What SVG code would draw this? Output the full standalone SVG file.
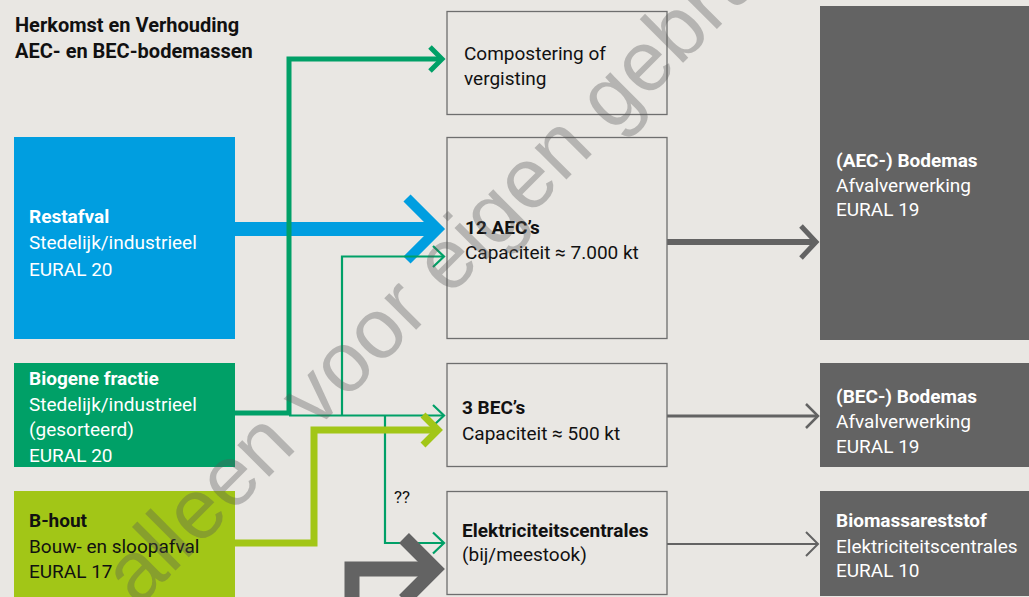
<svg xmlns="http://www.w3.org/2000/svg" width="1029" height="597" viewBox="0 0 1029 597">
<style>
text{font-family:Roboto,"Liberation Sans",sans-serif;font-size:19px}
.b{font-weight:bold}
.w{fill:#fff}
.k{fill:#111}
.mid{fill:#e9e7e3;stroke:#6e6e6e;stroke-width:1.3}
.dk{fill:#636363}
.ln{fill:none;stroke-linejoin:miter;stroke-linecap:butt}
.wm{font-family:"Liberation Sans",Arial,sans-serif;font-size:85px;fill:#555;fill-opacity:0.35}
</style>
<rect width="1029" height="597" fill="#e9e7e3"/>
<g id="title">
<text class="b k" x="15" y="32" style="font-size:20px">Herkomst en Verhouding</text>
<text class="b k" x="15" y="58" style="font-size:20px">AEC- en BEC-bodemassen</text>
</g>
<g id="connectors">
<path class="ln" d="M235,229 H432" stroke="#009ee0" stroke-width="14"/>
<path class="ln" d="M407,198 L438,229 L407,260" stroke="#009ee0" stroke-width="10"/>
<path class="ln" d="M235,413 H289 V59 H440" stroke="#00a067" stroke-width="5"/>
<path class="ln" d="M430,47 L442,59 L430,71" stroke="#00a067" stroke-width="5"/>
<path class="ln" d="M289,415.5 H443 M342,415.5 V256.5 H443 M385,415.5 V543 H443" stroke="#00a067" stroke-width="2.2"/>
<path class="ln" d="M433,405 L444,415.5 L433,426 M433,246 L444,256.5 L433,267 M433,532.5 L444,543 L433,553.5" stroke="#00a067" stroke-width="2.2"/>
<path class="ln" d="M235,543 H314 V430 H434" stroke="#a2c617" stroke-width="7"/>
<path class="ln" d="M423,415 L438,430 L423,445" stroke="#a2c617" stroke-width="7"/>
<path class="ln" d="M352,597 V569 H430" stroke="#636363" stroke-width="15"/>
<path class="ln" d="M404,538 L435,569 L404,600" stroke="#636363" stroke-width="14"/>
<path class="ln" d="M667,242 H814" stroke="#636363" stroke-width="6" stroke-linecap="round"/>
<path class="ln" d="M801,226 L816,242 L801,258" stroke="#636363" stroke-width="5"/>
<path class="ln" d="M667,416 H818" stroke="#636363" stroke-width="3"/>
<path class="ln" d="M806,404 L818,416 L806,428" stroke="#636363" stroke-width="2.5"/>
<path class="ln" d="M667,544 H818" stroke="#636363" stroke-width="2"/>
<path class="ln" d="M806,532 L818,544 L806,556" stroke="#636363" stroke-width="2"/>
<text class="k" x="394" y="503" style="font-size:17px">??</text>
</g>
<g id="restafval">
<rect x="14" y="137" width="221" height="202" fill="#009ee0"/>
<text class="b w" x="29" y="223">Restafval</text>
<text class="w" x="29" y="249">Stedelijk/industrieel</text>
<text class="w" x="29" y="276">EURAL 20</text>
</g>
<g id="biogene">
<rect x="14" y="363" width="221" height="104" fill="#00a067"/>
<text class="b w" x="29" y="385">Biogene fractie</text>
<text class="w" x="29" y="411">Stedelijk/industrieel</text>
<text class="w" x="29" y="436">(gesorteerd)</text>
<text class="w" x="29" y="462">EURAL 20</text>
</g>
<g id="bhout">
<rect x="14" y="491" width="221" height="106" fill="#a2c617"/>
<text class="b k" x="29" y="527">B-hout</text>
<text class="k" x="29" y="553">Bouw- en sloopafval</text>
<text class="k" x="29" y="578">EURAL 17</text>
</g>
<g id="compostering">
<rect class="mid" x="447" y="11.5" width="220" height="103"/>
<text class="k" x="464" y="60">Compostering of</text>
<text class="k" x="464" y="85">vergisting</text>
</g>
<g id="aec">
<rect class="mid" x="447" y="137.5" width="220" height="201"/>
<text class="b k" x="465" y="234">12 AEC’s</text>
<text class="k" x="465" y="259">Capaciteit ≈ 7.000 kt</text>
</g>
<g id="bec">
<rect class="mid" x="447" y="363.5" width="220" height="103"/>
<text class="b k" x="462" y="414">3 BEC’s</text>
<text class="k" x="462" y="440">Capaciteit ≈ 500 kt</text>
</g>
<g id="elektriciteit">
<rect class="mid" x="447" y="491.5" width="220" height="103"/>
<text class="b k" x="462" y="537">Elektriciteitscentrales</text>
<text class="k" x="462" y="561">(bij/meestook)</text>
</g>
<g id="aec-bodemas">
<rect class="dk" x="820" y="6" width="209" height="334"/>
<text class="b w" x="836" y="167">(AEC-) Bodemas</text>
<text class="w" x="836" y="192">Afvalverwerking</text>
<text class="w" x="836" y="216">EURAL 19</text>
</g>
<g id="bec-bodemas">
<rect class="dk" x="820" y="363" width="209" height="104"/>
<text class="b w" x="836" y="403">(BEC-) Bodemas</text>
<text class="w" x="836" y="428">Afvalverwerking</text>
<text class="w" x="836" y="453">EURAL 19</text>
</g>
<g id="biomassa">
<rect class="dk" x="820" y="491" width="209" height="105"/>
<text class="b w" x="836" y="527">Biomassareststof</text>
<text class="w" x="836" y="553">Elektriciteitscentrales</text>
<text class="w" x="836" y="577">EURAL 10</text>
</g>
<g id="watermark">
<text class="wm" transform="translate(138,608) rotate(-45)">alleen voor eigen gebruik</text>
</g>
</svg>
